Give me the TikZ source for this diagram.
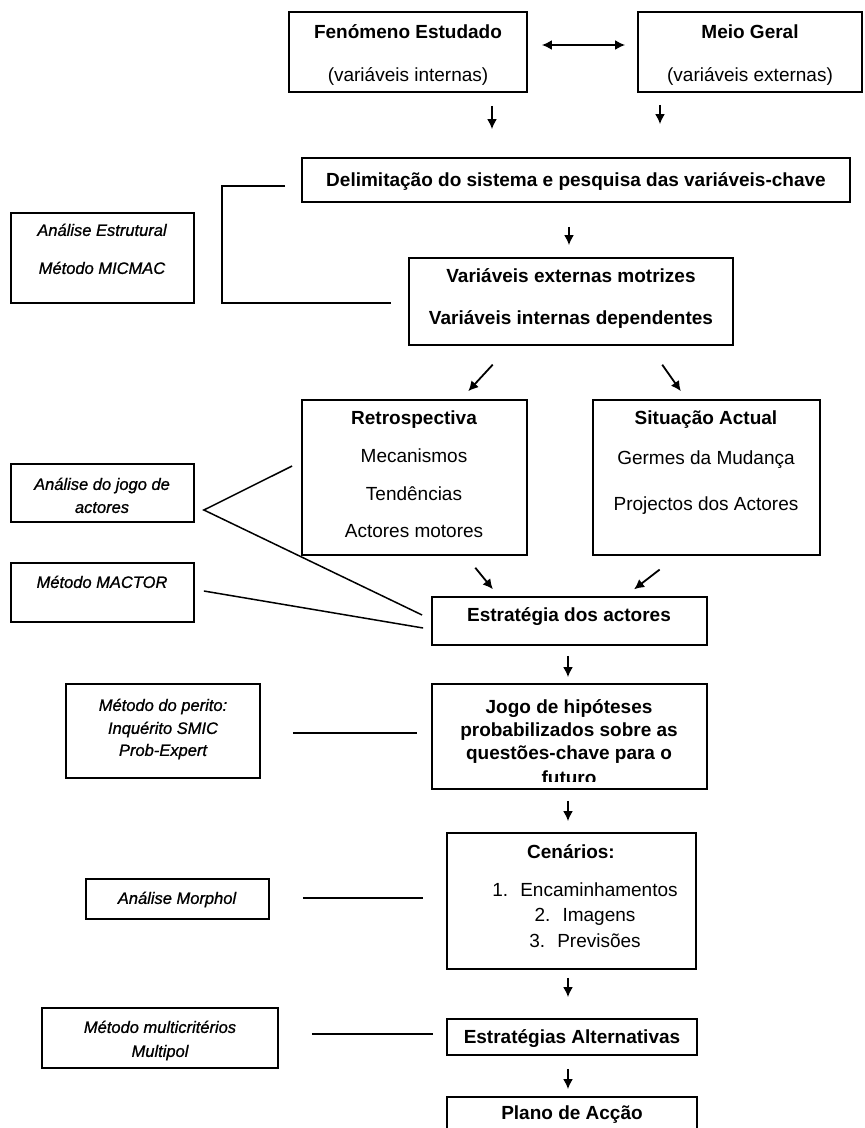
\documentclass[tikz,border=0pt]{standalone}
\usepackage{fontspec}
\setmainfont{Liberation Sans}
\newfontfamily\sidefont[FakeBold=0.9]{Liberation Sans}
\usetikzlibrary{arrows.meta,calc}

\begin{document}
\begin{tikzpicture}[x=1pt,y=-1pt,
  box/.style={draw, line width=1.8pt, inner sep=0pt},
  main/.style={font=\fontsize{19}{22}\selectfont\bfseries, inner sep=0pt, text height=13.6pt, text depth=0pt},
  plain/.style={font=\fontsize{19}{22}\selectfont, inner sep=0pt, text height=13.6pt, text depth=0pt},
  side/.style={font=\fontsize{16.5}{20}\sidefont\itshape, inner sep=0pt, text height=11.8pt, text depth=0pt},
  flow/.style={line width=1.8pt, -{Latex[length=10pt,width=10pt]}},
  dflow/.style={line width=1.8pt, {Latex[length=10pt,width=10pt]}-{Latex[length=10pt,width=10pt]}},
  link/.style={line width=1.5pt}]
\useasboundingbox (0,0) rectangle (865,1128);

% ---------- boxes of the main chain ----------
\node[box, minimum width=238, minimum height=80]  (fen)    at (408,52)    {};
\node[box, minimum width=224, minimum height=80]  (meio)   at (750,52)    {};
\node[box, minimum width=548, minimum height=44]  (delim)  at (576,180)   {};
\node[box, minimum width=324, minimum height=87]  (vext)   at (571,301.5) {};
\node[box, minimum width=225, minimum height=155] (retro)  at (414.5,477.5) {};
\node[box, minimum width=227, minimum height=155] (sit)    at (706.5,477.5) {};
\node[box, minimum width=275, minimum height=48]  (estr)   at (569.5,621) {};
\node[box, minimum width=275, minimum height=105] (jogo)   at (569.5,736.5) {};
\node[box, minimum width=249, minimum height=136] (cen)    at (571.5,901) {};
\node[box, minimum width=250, minimum height=36]  (ealt)   at (572,1037)  {};
\node[box, minimum width=250, minimum height=46]  (plano)  at (572,1120)  {};

% ---------- method boxes on the left ----------
\node[box, minimum width=183, minimum height=90]  (aest)   at (102.5,258) {};
\node[box, minimum width=183, minimum height=58]  (ajogo)  at (102.5,493) {};
\node[box, minimum width=183, minimum height=59]  (mactor) at (102.5,592.5) {};
\node[box, minimum width=194, minimum height=94]  (perito) at (163,731)   {};
\node[box, minimum width=183, minimum height=40]  (morph)  at (177.5,899) {};
\node[box, minimum width=236, minimum height=60]  (multi)  at (160,1038)  {};

% ---------- texts ----------
\node[main]  (fenA) at (408,32) {Fenómeno Estudado};
\node[plain] (fenB) at (408,75) {(variáveis internas)};
\node[main]  (meioA) at (750,32) {Meio Geral};
\node[plain] (meioB) at (750,75) {(variáveis externas)};
\node[main]  (delimA) at (576,180) {Delimitação do sistema e pesquisa das variáveis-chave};
\node[main]  (vextA) at (571,276) {Variáveis externas motrizes};
\node[main]  (vextB) at (571,318) {Variáveis internas dependentes};
\node[side]  (aestA) at (102,230) {Análise Estrutural};
\node[side]  (aestB) at (102,268) {Método MICMAC};
\node[main]  (retroA) at (414,418) {Retrospectiva};
\node[plain] (retroB) at (414,456) {Mecanismos};
\node[plain] (retroC) at (414,494) {Tendências};
\node[plain] (retroD) at (414,531) {Actores motores};
\node[main]  (sitA) at (706,418) {Situação Actual};
\node[plain] (sitB) at (706,458) {Germes da Mudança};
\node[plain] (sitC) at (706,504) {Projectos dos Actores};
\node[side]  (ajogoA) at (102,484) {Análise do jogo de};
\node[side]  (ajogoB) at (102,507) {actores};
\node[side]  (mactorA) at (102,582) {Método MACTOR};
\node[main]  (estrA) at (569,615) {Estratégia dos actores};
\node[side]  (peritoA) at (163,705) {Método do perito:};
\node[side]  (peritoB) at (163,728) {Inquérito SMIC};
\node[side]  (peritoC) at (163,750) {Prob-Expert};
\node[main]  (jogoA) at (569,707) {Jogo de hipóteses};
\node[main]  (jogoB) at (569,730) {probabilizados sobre as};
\node[main]  (jogoC) at (569,753) {questões-chave para o};
% the last line runs past the bottom of its box and is cut off
\begin{scope}
  \clip (433,760) rectangle (706,781.5);
  \node[main] (jogoD) at (569,777.5) {futuro};
\end{scope}
\node[main]  (cenA) at (571,852) {Cenários:};
\node[plain] (cenB) at (585,890) {\makebox[28pt][l]{1.}Encaminhamentos};
\node[plain] (cenC) at (585,915) {\makebox[28pt][l]{2.}Imagens};
\node[plain] (cenD) at (585,941) {\makebox[28pt][l]{3.}Previsões};
\node[side]  (morphA) at (177,898) {Análise Morphol};
\node[side]  (multiA) at (160,1027) {Método multicritérios};
\node[side]  (multiB) at (160,1051) {Multipol};
\node[main]  (ealtA) at (572,1037) {Estratégias Alternativas};
\node[main]  (planoA) at (572,1113) {Plano de Acção};

% ---------- flow arrows ----------
\draw[dflow, shorten <=14pt, shorten >=12pt] (fen.east |- 0,45) -- (meio.west |- 0,45);
\draw[flow, shorten <=13pt, shorten >=28pt] (fen.south -| 492,0) -- (delim.north -| 492,0);
\draw[flow, shorten <=12pt, shorten >=33pt] (meio.south -| 660,0) -- (delim.north -| 660,0);
\draw[flow, shorten <=24pt, shorten >=12pt] (delim.south -| 569,0) -- (vext.north -| 569,0);
\draw[flow, shorten <=25.5pt, shorten >=10.7pt] (vext.south -| 510,0) -- (retro.north -| 461,0);
\draw[flow, shorten <=23pt, shorten >=9.7pt] (vext.south -| 649,0) -- (sit.north -| 686.4,0);
\draw[flow, shorten <=15.3pt, shorten >=8.9pt] (retro.south -| 465.6,0) -- (estr.north -| 498.5,0);
\draw[flow, shorten <=22.3pt, shorten >=11.1pt] (sit.south -| 677.3,0) -- (estr.north -| 625.3,0);
\draw[flow, shorten <=10pt, shorten >=6pt] (estr.south -| 568,0) -- (jogo.north -| 568,0);
\draw[flow, shorten <=11pt, shorten >=11pt] (jogo.south -| 568,0) -- (cen.north -| 568,0);
\draw[flow, shorten <=8pt, shorten >=21pt] (cen.south -| 568,0) -- (ealt.north -| 568,0);
\draw[flow, shorten <=13pt, shorten >=7pt] (ealt.south -| 568,0) -- (plano.north -| 568,0);

% ---------- links from the methods ----------
\draw[link] ($(delim.west |- 0,186)+(-16,0)$) -| (222,303) -- ($(vext.west |- 0,303)+(-17,0)$);
\coordinate (vtx) at ($(ajogo.east)+(9,17)$);
\draw[link] ($(retro.west |- 0,466)+(-9,0)$) -- (vtx) -- ($(estr.west |- 0,615)+(-9,0)$);
\draw[link] ($(mactor.east)+(9,-1.5)$) -- ($(estr.west |- 0,628)+(-8,0)$);
\draw[link] ($(perito.east |- 0,733)+(32,0)$) -- ($(jogo.west |- 0,733)+(-14,0)$);
\draw[link] ($(morph.east |- 0,898)+(33,0)$) -- ($(cen.west |- 0,898)+(-23,0)$);
\draw[link] ($(multi.east |- 0,1034)+(33,0)$) -- ($(ealt.west |- 0,1034)+(-13,0)$);
\end{tikzpicture}
\end{document}
